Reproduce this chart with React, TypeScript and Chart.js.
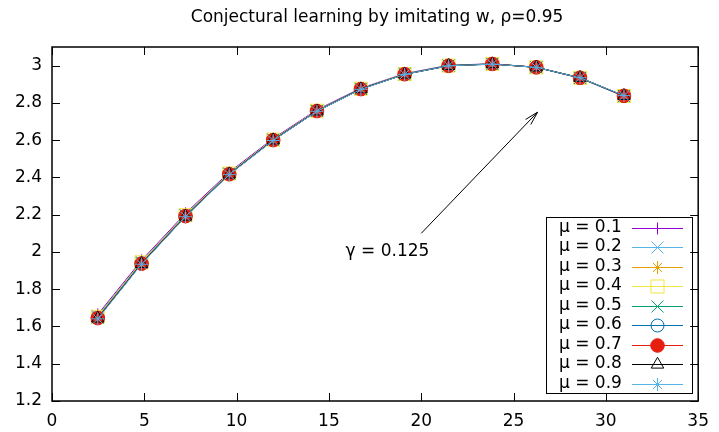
import React, { useEffect, useRef } from 'react';
import { Chart, registerables } from 'chart.js';
import * as helpers from 'chart.js/helpers';

Chart.register(...registerables);

const TITLE = 'Conjectural learning by imitating w, ρ=0.95';
const xValues = [2.48, 4.85, 7.23, 9.6, 11.98, 14.35, 16.73, 19.1, 21.48, 23.85, 26.23, 28.6, 30.98];
const mu01 = [1.665, 1.955, 2.207, 2.428, 2.609, 2.763, 2.879, 2.957, 3.002, 3.010, 2.991, 2.933, 2.835];
const mu02 = [1.658, 1.948, 2.200, 2.423, 2.605, 2.760, 2.877, 2.956, 3.001, 3.009, 2.991, 2.934, 2.836];
const mu03 = [1.655, 1.946, 2.199, 2.422, 2.604, 2.759, 2.876, 2.955, 3.000, 3.009, 2.991, 2.934, 2.837];
const mu04 = [1.652, 1.944, 2.197, 2.421, 2.603, 2.758, 2.876, 2.955, 3.000, 3.009, 2.991, 2.934, 2.837];
const mu05 = [1.649, 1.941, 2.195, 2.419, 2.602, 2.757, 2.875, 2.954, 3.000, 3.009, 2.991, 2.934, 2.837];
const mu06 = [1.647, 1.939, 2.193, 2.418, 2.601, 2.757, 2.875, 2.954, 3.000, 3.009, 2.991, 2.934, 2.837];
const mu07 = [1.645, 1.937, 2.192, 2.417, 2.600, 2.756, 2.874, 2.954, 2.999, 3.009, 2.991, 2.935, 2.838];
const mu08 = [1.643, 1.936, 2.190, 2.416, 2.599, 2.755, 2.874, 2.953, 2.999, 3.008, 2.991, 2.935, 2.838];
const mu09 = [1.641, 1.934, 2.189, 2.415, 2.598, 2.755, 2.873, 2.953, 2.999, 3.008, 2.991, 2.935, 2.839];

const seriesLabels = ['μ = 0.1', 'μ = 0.2', 'μ = 0.3', 'μ = 0.4', 'μ = 0.5', 'μ = 0.6', 'μ = 0.7', 'μ = 0.8', 'μ = 0.9'];
const seriesValues = [mu01, mu02, mu03, mu04, mu05, mu06, mu07, mu08, mu09];
const seriesColors = ['#9400d3', '#56b4e9', '#e69f00', '#f0e442', '#009e73', '#0072b2', '#e51e10', '#000000', '#56b4e9'];
const seriesStyles = ['cross', 'crossRot', 'star', 'rect', 'crossRot', 'circle', 'circle', 'triangle', 'star'];
const seriesRadius = [6, 8.5, 6.5, 9.2, 8.5, 6.5, 6.8, 7.2, 6.5];
const seriesFilled = [false, false, false, false, false, false, true, false, false];

const xTicks = [0, 5, 10, 15, 20, 25, 30, 35];
const yTicks = [1.2, 1.4, 1.6, 1.8, 2.0, 2.2, 2.4, 2.6, 2.8, 3.0];
const X_MIN = 0, X_MAX = 35, Y_MIN = 1.2, Y_MAX = 3.1;

const ANNOT_TEXT = 'γ = 0.125';
const annotTextPos = { x: 15.9, y: 2.0 };
const arrowFrom = { x: 20.0, y: 2.1 };
const arrowTo = { x: 26.3, y: 2.75 };

const FONT = "'DejaVu Sans', sans-serif";
const FS = 17;

const framePlugin = {
  id: 'gnuplotFrame',
  afterDraw(chart: any) {
    const ctx = chart.ctx;
    const { left, right, top, bottom } = chart.chartArea;
    const xs = chart.scales.x;
    const ys = chart.scales.y;
    ctx.save();
    // title
    ctx.fillStyle = '#000';
    ctx.font = `${FS}px ${FONT}`;
    ctx.textAlign = 'center';
    ctx.textBaseline = 'middle';
    ctx.fillText(TITLE, (left + right) / 2 + 2, 18);

    // frame
    ctx.strokeStyle = '#000';
    ctx.lineWidth = 1.5;
    ctx.strokeRect(left, top, right - left, bottom - top);
    ctx.lineWidth = 1;
    const TL = 8;
    ctx.beginPath();
    xTicks.forEach((v) => {
      const px = Math.round(xs.getPixelForValue(v)) + 0.5;
      ctx.moveTo(px, bottom);
      ctx.lineTo(px, bottom - TL);
      ctx.moveTo(px, top);
      ctx.lineTo(px, top + TL);
    });
    yTicks.forEach((v) => {
      const py = Math.round(ys.getPixelForValue(v)) + 0.5;
      ctx.moveTo(left, py);
      ctx.lineTo(left + TL, py);
      ctx.moveTo(right, py);
      ctx.lineTo(right - TL, py);
    });
    ctx.stroke();

    // annotation text
    ctx.font = `${FS}px ${FONT}`;
    ctx.textAlign = 'left';
    ctx.textBaseline = 'middle';
    ctx.fillStyle = '#000';
    ctx.fillText(ANNOT_TEXT, xs.getPixelForValue(annotTextPos.x), ys.getPixelForValue(annotTextPos.y));

    // arrow
    const x1 = xs.getPixelForValue(arrowFrom.x), y1 = ys.getPixelForValue(arrowFrom.y);
    const x2 = xs.getPixelForValue(arrowTo.x), y2 = ys.getPixelForValue(arrowTo.y);
    const ang = Math.atan2(y2 - y1, x2 - x1);
    const hl = 14, ha = (15 * Math.PI) / 180;
    ctx.beginPath();
    ctx.moveTo(x1, y1);
    ctx.lineTo(x2, y2);
    ctx.moveTo(x2 - hl * Math.cos(ang - ha), y2 - hl * Math.sin(ang - ha));
    ctx.lineTo(x2, y2);
    ctx.lineTo(x2 - hl * Math.cos(ang + ha), y2 - hl * Math.sin(ang + ha));
    ctx.stroke();

    // legend
    const bx = 546.5, by = 217.5, bw = 146, bh = 176;
    ctx.strokeStyle = '#000';
    ctx.lineWidth = 1;
    ctx.strokeRect(bx, by, bw, bh);
    seriesLabels.forEach((lab, i) => {
      const cy = 227.5 + i * 19.5;
      ctx.fillStyle = '#000';
      ctx.font = `${FS}px ${FONT}`;
      ctx.textAlign = 'left';
      ctx.textBaseline = 'middle';
      ctx.fillText(lab, 559, cy);
      ctx.strokeStyle = seriesColors[i];
      ctx.lineWidth = 1;
      ctx.beginPath();
      ctx.moveTo(632, Math.round(cy) + 0.5);
      ctx.lineTo(683, Math.round(cy) + 0.5);
      ctx.stroke();
      ctx.fillStyle = seriesFilled[i] ? seriesColors[i] : 'rgba(0,0,0,0)';
      ctx.strokeStyle = seriesColors[i];
      ctx.lineWidth = 1;
      (helpers as any).drawPoint(ctx, { pointStyle: seriesStyles[i], radius: seriesRadius[i], rotation: 0, borderWidth: 1 }, 657.5, Math.round(cy) + 0.5);
    });
    ctx.restore();
  },
};

export default function App() {
  const ref = useRef<HTMLCanvasElement | null>(null);
  useEffect(() => {
    document.body.style.margin = '0';
    const datasets = seriesValues.map((vals, i) => ({
      label: seriesLabels[i],
      data: vals.map((v, k) => ({ x: xValues[k], y: v })),
      borderColor: seriesColors[i],
      borderWidth: 1,
      backgroundColor: seriesColors[i],
      pointStyle: seriesStyles[i],
      pointRadius: seriesRadius[i],
      pointBorderWidth: 1,
      pointBorderColor: seriesColors[i],
      pointBackgroundColor: seriesFilled[i] ? seriesColors[i] : 'rgba(0,0,0,0)',
      fill: false,
      tension: 0,
      order: 8 - i,
    }));
    const chart = new Chart(ref.current as HTMLCanvasElement, {
      type: 'line',
      data: { datasets },
      options: {
        animation: false,
        responsive: true,
        maintainAspectRatio: false,
        layout: { padding: { top: 47, right: 15, bottom: 0, left: 0 } },
        plugins: { legend: { display: false }, title: { display: false }, tooltip: { enabled: false } },
        scales: {
          x: {
            type: 'linear',
            min: X_MIN,
            max: X_MAX,
            grid: { display: false, drawTicks: false },
            border: { display: false },
            ticks: { font: { family: FONT, size: FS }, color: '#000', padding: 10, maxRotation: 0, callback: (v: any) => String(v) },
            afterBuildTicks: (s: any) => { s.ticks = xTicks.map((v) => ({ value: v })); },
            afterFit: (s: any) => { s.height = 31; },
          },
          y: {
            type: 'linear',
            min: Y_MIN,
            max: Y_MAX,
            grid: { display: false, drawTicks: false },
            border: { display: false },
            ticks: { font: { family: FONT, size: FS }, color: '#000', padding: 10, callback: (v: any) => String(+Number(v).toFixed(1)) },
            afterBuildTicks: (s: any) => { s.ticks = yTicks.map((v) => ({ value: v })); },
            afterFit: (s: any) => { s.width = 52; },
          },
        },
      },
      plugins: [framePlugin],
    });
    return () => chart.destroy();
  }, []);
  return (
    <div style={{ position: 'fixed', left: 0, top: 0, width: 719, height: 432 }}>
      <canvas ref={ref} />
    </div>
  );
}
